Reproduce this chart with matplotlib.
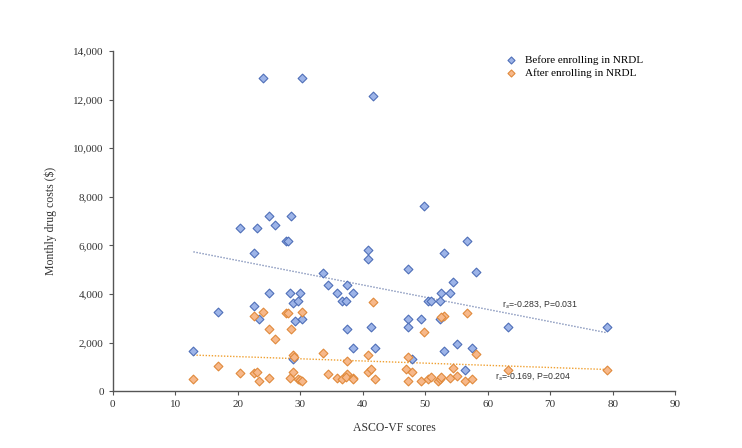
import matplotlib
matplotlib.use("Agg")
import matplotlib.pyplot as plt
import numpy as np

# ASCO-VF scores and monthly drug costs ($)
before_x = [12.9, 16.9, 20.4, 23.0, 22.6, 22.6, 23.4, 25.0, 26.0, 25.0, 27.7, 28.1,
            28.5, 28.4, 28.9, 29.7, 30.0, 29.1, 30.2, 28.9, 33.6, 34.5, 35.9, 37.4,
            36.7, 37.3, 38.4, 37.4, 38.4, 40.9, 40.9, 41.3, 42.0, 24.0, 30.3, 41.7,
            49.8, 56.7, 53.0, 47.2, 58.2, 54.5, 52.6, 54.0, 50.5, 51.0, 52.3, 52.3,
            47.2, 49.3, 47.2, 63.2, 79.1, 55.1, 57.5, 53.0, 47.8, 56.3]
before_y = [1650, 3272, 6724, 6724, 3506, 5679, 2956, 7219, 6834, 4029, 6160, 6160,
            7219, 4029, 3644, 3726, 4029, 2888, 2956, 1306, 4881, 4373, 4029, 4373,
            3726, 3726, 4029, 2544, 1760, 5816, 5459, 2626, 1760, 12876, 12876, 12135,
            7631, 6160, 5706, 5032, 4909, 4510, 4029, 4029, 3726, 3726, 3726, 2970,
            2970, 2970, 2626, 2626, 2626, 1925, 1760, 1650, 1306, 866]

after_x = [12.9, 16.9, 20.4, 22.6, 23.0, 23.4, 22.6, 24.0, 25.0, 25.0, 26.0, 27.7,
           28.1, 28.5, 28.4, 28.9, 29.0, 28.9, 29.7, 30.0, 30.2, 30.2, 33.6, 34.5,
           35.9, 36.7, 37.4, 37.4, 37.3, 38.4, 38.4, 40.9, 40.9, 41.3, 41.7, 42.0,
           56.7, 53.0, 52.6, 49.8, 47.2, 58.2, 54.5, 63.2, 79.1, 46.9, 47.8, 47.2,
           49.3, 50.5, 51.0, 52.0, 52.3, 52.6, 54.0, 55.1, 56.3, 57.5]
after_y = [481, 1045, 756, 729, 770, 412, 3094, 3272, 2544, 522, 2131, 3204,
           3204, 2544, 522, 1471, 1416, 797, 495, 454, 412, 3272, 1581, 687,
           522, 495, 687, 1251, 591, 522, 481, 1471, 797, 894, 3685, 481,
           3204, 3094, 3040, 2448, 1416, 1540, 962, 866, 866, 894, 797, 412,
           412, 495, 591, 412, 495, 591, 522, 632, 412, 481]

x_ticks = [0, 10, 20, 30, 40, 50, 60, 70, 80, 90]
y_ticks = [0, 2000, 4000, 6000, 8000, 10000, 12000, 14000]

plt.rcParams["font.family"] = "Liberation Serif"

fig = plt.figure(figsize=(7.42, 4.48), dpi=100)
ax = fig.add_axes([0.152, 0.127, 0.758, 0.759])

ax.scatter(before_x, before_y, marker="D", s=20, facecolor="#9db4e8",
           edgecolor="#4f6fb8", linewidth=0.8, zorder=3, label="Before enrolling in NRDL")
ax.scatter(after_x, after_y, marker="D", s=20, facecolor="#f7b88a",
           edgecolor="#e08a3c", linewidth=0.8, zorder=3, label="After enrolling in NRDL")

# linear trend lines over the observed range
for xs, ys, col in [(before_x, before_y, "#7f8fb8"), (after_x, after_y, "#f0a030")]:
    k, b = np.polyfit(xs, ys, 1)
    xr = np.array([min(xs), max(xs)])
    ax.plot(xr, k * xr + b, linestyle=(0, (1, 1.2)), color=col, linewidth=1.0, zorder=2)

ax.text(62.3, 3575, "r$_s$=-0.283, P=0.031", family="Liberation Sans", fontsize=6.3,
        va="center", ha="left", color="#333333")
ax.text(61.2, 619, "r$_s$=-0.169, P=0.204", family="Liberation Sans", fontsize=6.3,
        va="center", ha="left", color="#333333")

ax.set_xlim(0, 90)
ax.set_ylim(0, 14000)
ax.set_xticks(x_ticks)
ax.set_yticks(y_ticks)
ax.set_yticklabels([f"{v:,}" for v in y_ticks])
ax.tick_params(labelsize=8, length=3, width=0.8, color="#555555", labelcolor="#333333")
for side in ["top", "right"]:
    ax.spines[side].set_visible(False)
for side in ["left", "bottom"]:
    ax.spines[side].set_color("#555555")
    ax.spines[side].set_linewidth(1.0)

ax.set_xlabel("ASCO-VF scores", fontsize=8.5, color="#333333", labelpad=9)
ax.set_ylabel("Monthly drug costs ($)", fontsize=8.5, color="#333333", labelpad=12)

ax.legend(loc="upper left", bbox_to_anchor=(0.68, 1.0), frameon=False, fontsize=8,
          handletextpad=0.3, labelspacing=0.3, borderaxespad=0.0, markerscale=0.8)

fig.savefig("out.png", dpi=100)
